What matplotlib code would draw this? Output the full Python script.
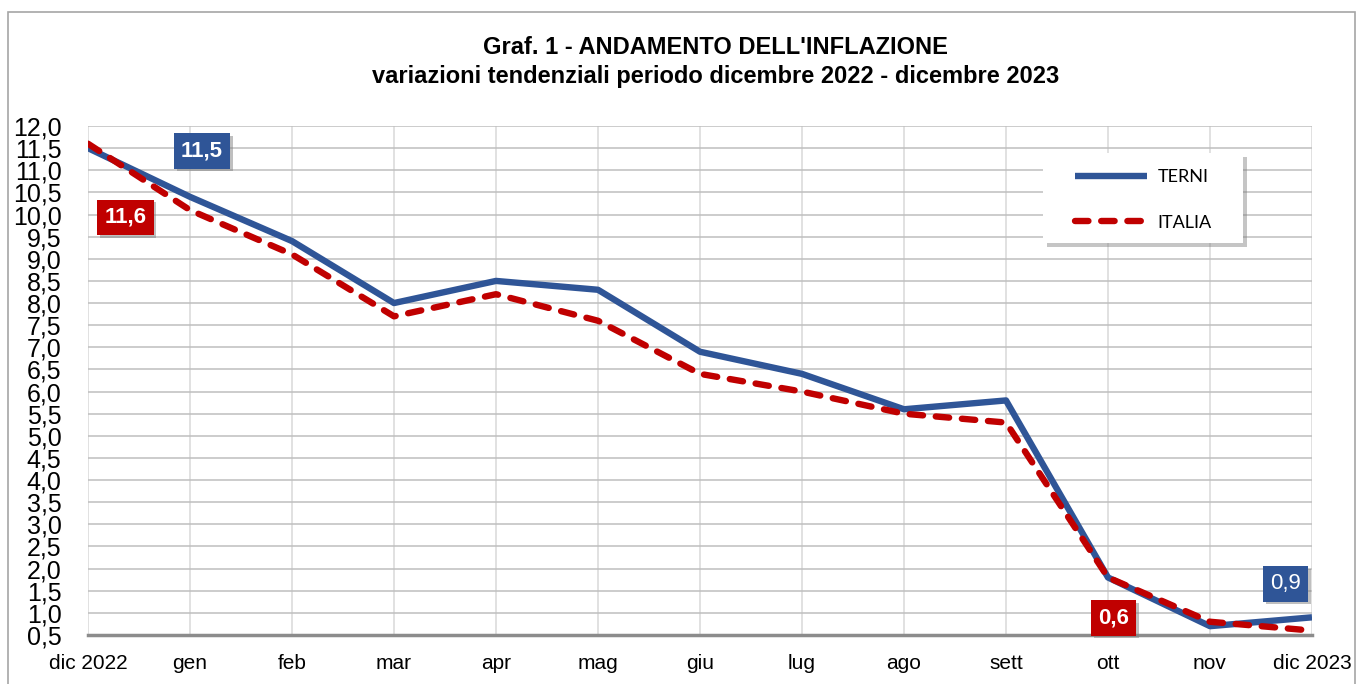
import matplotlib
matplotlib.use("Agg")
import matplotlib.pyplot as plt
import matplotlib.patheffects as pe
from matplotlib.patches import Rectangle
from matplotlib.ticker import FuncFormatter, MultipleLocator

months = ['dic 2022', 'gen', 'feb', 'mar', 'apr', 'mag', 'giu', 'lug',
          'ago', 'sett', 'ott', 'nov', 'dic 2023']
terni = [11.5, 10.4, 9.4, 8.0, 8.5, 8.3, 6.9, 6.4, 5.6, 5.8, 1.8, 0.7, 0.9]
italia = [11.6, 10.1, 9.1, 7.7, 8.2, 7.6, 6.4, 6.0, 5.5, 5.3, 1.8, 0.8, 0.6]

BLUE = '#2F5597'
RED = '#C00000'

plt.rcParams['font.family'] = ['Liberation Sans', 'DejaVu Sans']

fig = plt.figure(figsize=(13.6, 6.84), dpi=100)
ax = fig.add_axes([0.0647, 0.0716, 0.9, 0.7442])

x = list(range(len(months)))
ax.plot(x, terni, color=BLUE, lw=4.6, solid_capstyle='butt', label='TERNI', zorder=3)
ax.plot(x, italia, color=RED, lw=4.6, ls=(0, (2.1, 2.0)), dash_capstyle='round',
        label='ITALIA', zorder=4)

ax.set_xlim(0, len(months) - 1)
ax.set_ylim(0.5, 12.0)
ax.set_xticks(x)
ax.set_xticklabels(months)
ax.yaxis.set_major_locator(MultipleLocator(0.5))
ax.yaxis.set_major_formatter(FuncFormatter(lambda v, p: f'{v:.1f}'.replace('.', ',')))
ax.tick_params(axis='y', length=0, pad=19, labelsize=18)
ax.tick_params(axis='x', length=0, pad=14, labelsize=15)

ax.grid(axis='y', color='#BFBFBF', lw=1.1)
ax.grid(axis='x', color='#D9D9D9', lw=1.1)
ax.set_axisbelow(True)
for s in ['top', 'right', 'left']:
    ax.spines[s].set_visible(False)
ax.spines['bottom'].set_color('#8C8C8C')
ax.spines['bottom'].set_linewidth(2.5)

# data labels
shadow = [pe.SimplePatchShadow(offset=(2, -2), shadow_rgbFace='#808080', alpha=0.5), pe.Normal()]
labels = [
    (0, terni[0], '11,5', BLUE, 'bold', (82, -2)),
    (0, italia[0], '11,6', RED, 'bold', (27, -53)),
    (12, italia[-1], '0,6', RED, 'bold', (-143, 9)),
    (12, terni[-1], '0,9', BLUE, 'normal', (-19, 24)),
]
for xi, yi, txt, col, w, off in labels:
    t = ax.annotate(txt, (xi, yi), xytext=off, textcoords='offset points',
                    ha='center', va='center', color='white', fontsize=16,
                    fontweight=w, zorder=6, annotation_clip=False,
                    bbox=dict(boxstyle='square,pad=0.32', fc=col, ec='none'))
    t.get_bbox_patch().set_path_effects(shadow)

# legend box drawn by hand so the padding matches
box = Rectangle((0.780, 0.770), 0.1634, 0.1768, transform=ax.transAxes,
                fc='white', ec='none', zorder=7)
box.set_path_effects([pe.SimplePatchShadow(offset=(3, -3), shadow_rgbFace='#7F7F7F', alpha=0.45),
                      pe.Normal()])
ax.add_patch(box)
leg = ax.legend(loc='upper left', bbox_to_anchor=(0.806, 0.915), frameon=False,
                handlelength=4.0, labelspacing=1.63, borderpad=0,
                handletextpad=0.6, borderaxespad=0,
                prop={'family': ['Lato', 'DejaVu Sans'], 'size': 13})
leg.set_zorder(8)

fig.text(0.526, 0.93, "Graf. 1 - ANDAMENTO DELL'INFLAZIONE", ha='center', va='center',
         fontsize=17, fontweight='bold')
fig.text(0.526, 0.888, "variazioni tendenziali periodo dicembre 2022 - dicembre 2023",
         ha='center', va='center', fontsize=17, fontweight='bold')

fig.patches.append(Rectangle((0.006, -0.01), 0.99, 0.9925, transform=fig.transFigure,
                             fill=False, ec='#A6A6A6', lw=1.2))

fig.savefig('out.png', dpi=100)
